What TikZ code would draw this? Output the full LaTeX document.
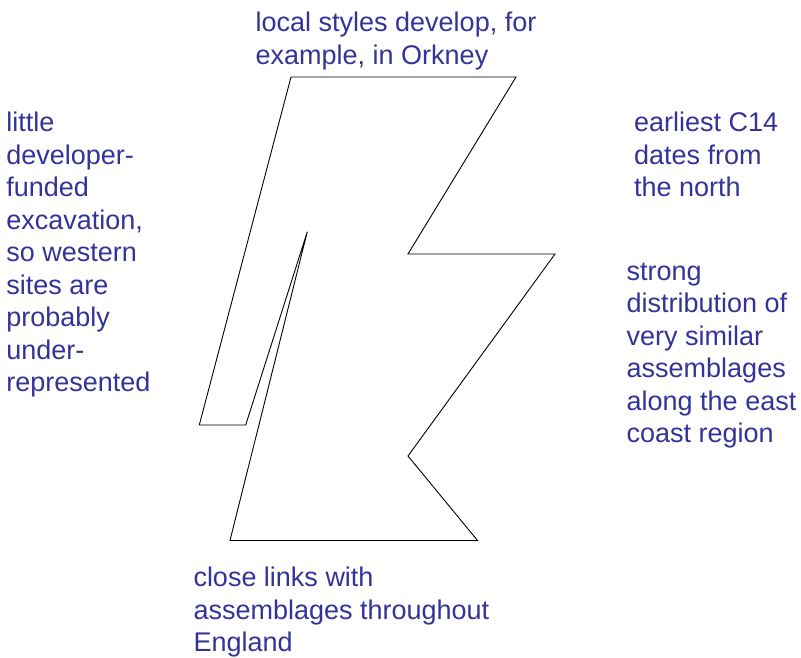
\documentclass[tikz,border=0pt]{standalone}
\usepackage{fontspec}
\setmainfont{Liberation Sans}
\definecolor{labelblue}{RGB}{51,51,153}
\begin{document}
\begin{tikzpicture}[x=1pt,y=-1pt,
  lbl/.style={anchor=base west,inner sep=0pt,align=left,text=labelblue,
    font=\fontsize{27}{32.5}\selectfont},
  outline/.style={draw=black,line width=0.9pt,line join=miter}]
\useasboundingbox (0,0) rectangle (801,658);
\draw[outline] (291,77) -- (516,77) -- (408,254) -- (555,254) -- (408,456)
  -- (477.5,540.5) -- (230,540.5) -- (307.3,231.7) -- (245.7,425) -- (199.3,425) -- cycle;
% anchors at the baseline of each block's last line
\node[lbl] (top) at (255.5,64.2) {local styles develop, for\\example, in Orkney};
\node[lbl] (left) at (6.2,391.7) {little\\developer-\\funded\\excavation,\\so western\\sites are\\probably\\under-\\represented};
\node[lbl] (rtop) at (634,196.7) {earliest C14\\dates from\\the north};
\node[lbl] (rbot) at (626.5,442.5) {strong\\distribution of\\very similar\\assemblages\\along the east\\coast region};
\node[lbl] (bot) at (193.3,651.7) {close links with\\assemblages throughout\\England};
\end{tikzpicture}
\end{document}
